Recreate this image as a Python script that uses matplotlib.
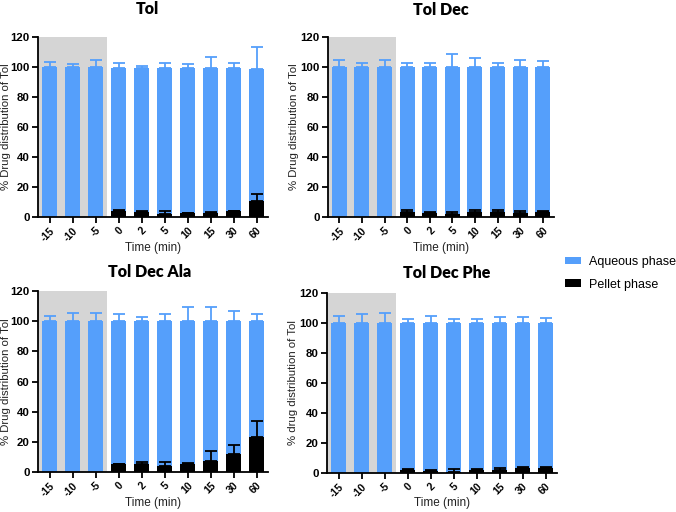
import numpy as np
import matplotlib
matplotlib.use("Agg")
import matplotlib.pyplot as plt
from matplotlib.transforms import ScaledTranslation

categories = ["-15", "-10", "-5", "0", "2", "5", "10", "15", "30", "60"]
nan = np.nan

tol_aq = [100, 100, 100, 99.5, 99.5, 99.5, 99.5, 99.5, 99.5, 98.5]
tol_aq_top = [103.5, 102.2, 104.5, 102.5, 101, 102.5, 101.8, 106.5, 103, 113.5]
tol_pel = [nan, nan, nan, 4.2, 3.3, 2.0, 2.5, 3.0, 3.8, 10.5]
tol_pel_top = [nan, nan, nan, 5.0, 4.0, 4.0, 2.7, 3.5, 4.2, 15.3]

dec_aq = [100] * 10
dec_aq_top = [104.5, 102.5, 105, 103, 103, 109, 105.8, 102.5, 104.5, 103.8]
dec_pel = [nan, nan, nan, 3.5, 3.0, 1.8, 3.5, 3.5, 3.0, 3.5]
dec_pel_top = [nan, nan, nan, 5.0, 3.5, 3.5, 4.5, 4.5, 4.0, 4.2]

ala_aq = [100] * 10
ala_aq_top = [103.5, 105.5, 105.5, 105, 103, 105, 109.5, 109.5, 106.5, 105]
ala_pel = [nan, nan, nan, 5.0, 5.5, 4.0, 5.0, 7.5, 11.8, 23.5]
ala_pel_top = [nan, nan, nan, 5.3, 6.5, 6.5, 6.0, 14.2, 18.0, 33.5]

phe_aq = [100] * 10
phe_aq_top = [105, 105.8, 107, 102.5, 104.5, 102.5, 103, 104, 104.2, 103.5]
phe_pel = [nan, nan, nan, 2.2, 1.5, 1.0, 1.7, 2.2, 3.5, 3.5]
phe_pel_top = [nan, nan, nan, 3.0, 2.0, 2.5, 2.5, 3.5, 4.0, 4.0]

titles = ["Tol", "Tol Dec", "Tol Dec Ala", "Tol Dec Phe"]
ylabels = ["% Drug distribution of Tol", "% Drug distribution of Tol",
           "% Drug distribution of Tol", "% drug distribution of Tol"]

BLUE = "#559FFB"
GRAY = "#D5D5D5"

W, H = 676, 512
fig = plt.figure(figsize=(W / 100, H / 100), dpi=100)

def rect(l, r, t, b):
    return [l / W, 1 - b / H, (r - l) / W, (b - t) / H]

rects = [rect(38, 268, 37, 217), rect(328, 554, 37, 217),
         rect(38, 268, 291, 472), rect(327, 557, 293, 473)]
title_pos = [(147, 9), (441, 10), (150, 272), (447, 273)]
xlab_y = [248, 248, 503, 503]
ylab_x = [6, 294, 6, 293]

data = [(tol_aq, tol_aq_top, tol_pel, tol_pel_top),
        (dec_aq, dec_aq_top, dec_pel, dec_pel_top),
        (ala_aq, ala_aq_top, ala_pel, ala_pel_top),
        (phe_aq, phe_aq_top, phe_pel, phe_pel_top)]

x = np.arange(len(categories))
for i, (aq, aqt, pel, pelt) in enumerate(data):
    ax = fig.add_axes(rects[i])
    aq = np.array(aq, float); aqt = np.array(aqt, float)
    pel = np.array(pel, float); pelt = np.array(pelt, float)
    ax.axvspan(-0.5, 2.5, ymin=0, ymax=1, color=GRAY, zorder=0, lw=0)
    ax.errorbar(x, aq, yerr=[np.zeros_like(aq), aqt - aq], fmt="none",
                ecolor=BLUE, elinewidth=1.3, capsize=4, capthick=1.3, zorder=1)
    ax.bar(x, aq, width=0.66, color=BLUE, zorder=2,
           label="Aqueous phase" if i == 0 else None)
    ax.errorbar(x, pel, yerr=[np.zeros_like(pel), pelt - pel], fmt="none",
                ecolor="black", elinewidth=1.3, capsize=4, capthick=1.3, zorder=3)
    ax.bar(x, np.nan_to_num(pel), width=0.66, color="black", zorder=4,
           label="Pellet phase" if i == 0 else None)
    ax.set_xlim(-0.5, 9.5)
    ax.set_ylim(0, 120)
    ax.set_yticks(range(0, 121, 20))
    ax.set_xticks(x)
    ax.set_xticklabels(categories, rotation=45, ha="right", va="top",
                       rotation_mode="anchor", fontweight="bold",
                       fontsize=7.5, family="Liberation Sans")
    off = ScaledTranslation(4 / 72, 0, fig.dpi_scale_trans)
    for lab in ax.get_xticklabels():
        lab.set_transform(lab.get_transform() + off)
    for lab in ax.get_yticklabels():
        lab.set_fontweight("bold"); lab.set_fontsize(8.2); lab.set_family("Liberation Sans")
    ax.spines["top"].set_visible(False)
    ax.spines["right"].set_visible(False)
    ax.spines["left"].set_linewidth(1.3)
    ax.spines["bottom"].set_linewidth(1.3)
    ax.tick_params(axis="both", direction="out", width=1.3, length=4, pad=2)
    yc = rects[i][1] + rects[i][3] / 2
    fig.text(ylab_x[i] / W, yc, ylabels[i], rotation=90, ha="center", va="center",
             fontsize=8.2, family="Liberation Sans", color="#222222")
    cx = (rects[i][0] + rects[i][2] / 2)
    fig.text(cx, 1 - xlab_y[i] / H, "Time (min)", ha="center", va="center",
             fontsize=8.5, family="Liberation Sans", color="#222222")
    tx, ty = title_pos[i]
    fig.text(tx / W, 1 - ty / H, titles[i], ha="center", va="center",
             fontsize=11.5, fontweight="heavy", family="Lato")
    if i == 0:
        handles, labels = ax.get_legend_handles_labels()

fig.legend(handles, labels, loc="upper left", bbox_to_anchor=(565 / W, 1 - 256 / H),
           frameon=False, prop={"family": "Liberation Sans", "size": 9},
           handlelength=1.25, handleheight=0.55, handletextpad=0.7,
           labelspacing=0.85, borderaxespad=0, borderpad=0)

fig.savefig("out.png", dpi=100)
